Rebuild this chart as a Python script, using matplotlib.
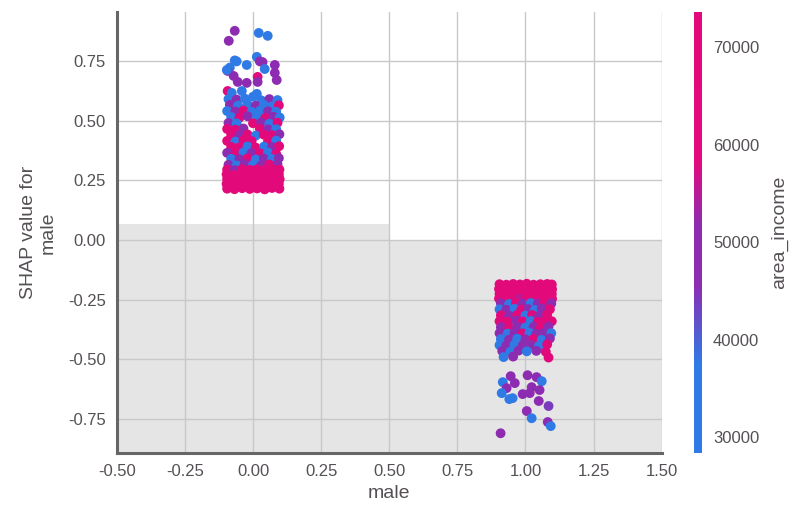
import numpy as np
import matplotlib.pyplot as plt
from matplotlib.colors import LinearSegmentedColormap

plt.rcParams['font.family'] = ['Liberation Sans', 'DejaVu Sans']

# ---- data ----------------------------------------------------------------
B, P, M = 33000, 49000, 67000   # typical blue / purple / magenta incomes

# female (male = 0), jittered x, SHAP value, area_income
female_x = [
    -0.067, -0.089, 0.021, 0.054, -0.067, -0.060, -0.085, -0.023, 0.014, 0.025,
    0.035, 0.080, 0.043, -0.093, -0.071, -0.056, -0.023, 0.017, 0.017, 0.080,
    0.087, -0.093, -0.078, -0.041, -0.096, 0.014,
    -0.090, -0.060, -0.030, 0.000, 0.030, 0.060, 0.090,
    -0.085, -0.055, -0.020, 0.010, 0.040, 0.070, 0.095,
    -0.095, -0.065, -0.035, -0.005, 0.025, 0.055, 0.085,
    -0.080, -0.050, -0.020, 0.015, 0.045, 0.075, 0.098,
    -0.090, -0.060, 0.000, 0.030, 0.060, 0.090,
    -0.095, -0.065, -0.035, 0.025, 0.055, 0.085,
    -0.080, -0.050, -0.020, 0.010, 0.040, 0.070, 0.097,
    -0.095, -0.065, -0.035, -0.005, 0.055, 0.085,
    -0.080, -0.050, -0.020, 0.010, 0.040, 0.070, 0.096,
    -0.095, -0.065, -0.035, -0.005, 0.025, 0.055, 0.085,
    -0.080, -0.050, -0.020, 0.010, 0.040, 0.070, 0.095,
    -0.090, -0.060, -0.030, 0.000, 0.030, 0.060, 0.090,
    -0.095, -0.068, -0.040, -0.012, 0.015, 0.043, 0.070, 0.097,
    -0.097, -0.070, -0.042, -0.015, 0.012, 0.040, 0.067, 0.095,
    -0.095, -0.068, -0.040, -0.012, 0.015, 0.043, 0.070, 0.098,
    -0.097, -0.070, -0.042, -0.015, 0.012, 0.040, 0.067, 0.095,
    -0.095, -0.068, -0.040, -0.012, 0.015, 0.043, 0.070, 0.097,
]
female_shap = [
    0.876, 0.834, 0.867, 0.855, 0.752, 0.748, 0.722, 0.733, 0.767, 0.748,
    0.745, 0.733, 0.716, 0.708, 0.687, 0.662, 0.658, 0.683, 0.662, 0.700,
    0.670, 0.624, 0.616, 0.624, 0.712, 0.612,
    0.590, 0.588, 0.592, 0.600, 0.585, 0.590, 0.586,
    0.566, 0.563, 0.568, 0.562, 0.566, 0.560, 0.564,
    0.540, 0.538, 0.542, 0.536, 0.541, 0.539, 0.537,
    0.515, 0.512, 0.518, 0.514, 0.511, 0.516, 0.513,
    0.490, 0.488, 0.489, 0.492, 0.487, 0.491,
    0.465, 0.462, 0.467, 0.466, 0.463, 0.464,
    0.440, 0.438, 0.442, 0.437, 0.441, 0.439, 0.443,
    0.415, 0.412, 0.418, 0.414, 0.413, 0.416,
    0.390, 0.388, 0.392, 0.387, 0.391, 0.389, 0.393,
    0.365, 0.362, 0.367, 0.364, 0.363, 0.366, 0.361,
    0.340, 0.338, 0.342, 0.337, 0.341, 0.339, 0.343,
    0.315, 0.312, 0.318, 0.314, 0.313, 0.316, 0.317,
    0.295, 0.293, 0.297, 0.294, 0.296, 0.292, 0.298, 0.295,
    0.275, 0.273, 0.277, 0.274, 0.276, 0.272, 0.278, 0.275,
    0.255, 0.253, 0.257, 0.254, 0.256, 0.252, 0.258, 0.255,
    0.235, 0.233, 0.237, 0.234, 0.236, 0.232, 0.238, 0.235,
    0.215, 0.213, 0.217, 0.214, 0.216, 0.212, 0.218, 0.215,
]
female_income = [
    49000, 48000, 33000, 34000, 33000, 35000, 32000, 36000, 34000, 49000,
    50000, 48000, 34000, 50000, 49000, 48000, 50000, 65000, 49000, 48000,
    50000, 66000, 34000, 35000, 32000, 33000,
    B, P, B, B, B, P, B,
    P, B, B, P, B, B, M,
    B, P, M, B, B, P, B,
    B, M, P, B, M, P, B,
    P, B, M, P, B, M,
    M, M, P, M, P, B,
    M, P, M, B, M, M, P,
    M, B, M, M, M, B,
    M, M, B, M, B, P, M,
    P, M, B, P, M, B, M,
    B, P, M, B, P, B, P,
    P, B, P, B, P, M, P,
    M, P, M, M, M, 60000, M, M,
    M, 70000, M, M, 69000, M, M, 71000,
    70000, M, 72000, M, M, 70000, M, M,
    M, 71000, M, 69000, M, M, 72000, M,
    72000, M, M, 70000, M, 71000, M, M,
]

# male (male = 1)
male_x = [
    0.917, 0.946, 0.931, 0.961, 0.913, 0.953, 0.941, 1.008, 1.041, 1.060,
    1.023, 1.052, 0.990, 1.016, 1.049, 1.085, 1.005, 1.023, 1.082, 1.093,
    0.909,
    0.905, 0.930, 0.955, 0.980, 1.005, 1.030, 1.055, 1.080, 1.097,
    0.903, 0.928, 0.953, 0.978, 1.003, 1.028, 1.053, 1.078, 1.098,
    0.905, 0.930, 0.955, 0.980, 1.005, 1.030, 1.055, 1.080, 1.097,
    0.903, 0.928, 0.953, 0.978, 1.003, 1.028, 1.053, 1.078, 1.098,
    0.910, 0.940, 0.965, 0.990, 1.020, 1.045, 1.070, 1.095,
    0.905, 0.930, 0.960, 0.985, 1.010, 1.035, 1.060, 1.090,
    0.910, 0.940, 0.970, 1.000, 1.025, 1.050, 1.080,
    0.905, 0.935, 0.965, 0.990, 1.020, 1.045, 1.075, 1.097,
    0.910, 0.940, 0.970, 1.000, 1.030, 1.055, 1.085,
    0.905, 0.935, 0.960, 0.990, 1.015, 1.040, 1.070, 1.095,
    0.910, 0.940, 0.970, 1.000, 1.030, 1.060, 1.090,
    0.905, 0.930, 0.960, 0.990, 1.020, 1.050, 1.080,
    0.915, 0.945, 0.975, 1.005, 1.040, 1.075,
    0.920, 0.955, 1.085,
]
male_shap = [
    -0.595, -0.570, -0.620, -0.599, -0.641, -0.662, -0.666, -0.566, -0.574, -0.591,
    -0.616, -0.628, -0.645, -0.641, -0.674, -0.695, -0.716, -0.746, -0.762, -0.779,
    -0.809,
    -0.185, -0.187, -0.184, -0.186, -0.183, -0.187, -0.185, -0.184, -0.186,
    -0.205, -0.207, -0.204, -0.206, -0.203, -0.207, -0.205, -0.204, -0.206,
    -0.225, -0.227, -0.224, -0.226, -0.223, -0.227, -0.225, -0.224, -0.226,
    -0.245, -0.247, -0.244, -0.246, -0.243, -0.247, -0.245, -0.244, -0.246,
    -0.265, -0.268, -0.263, -0.266, -0.264, -0.267, -0.262, -0.266,
    -0.290, -0.292, -0.288, -0.291, -0.289, -0.293, -0.287, -0.290,
    -0.315, -0.317, -0.313, -0.316, -0.314, -0.318, -0.312,
    -0.340, -0.342, -0.338, -0.341, -0.339, -0.343, -0.337, -0.340,
    -0.365, -0.367, -0.363, -0.366, -0.364, -0.368, -0.362,
    -0.390, -0.392, -0.388, -0.391, -0.389, -0.393, -0.387, -0.390,
    -0.415, -0.417, -0.413, -0.416, -0.414, -0.418, -0.412,
    -0.440, -0.442, -0.438, -0.441, -0.439, -0.443, -0.437,
    -0.465, -0.467, -0.463, -0.466, -0.464, -0.468,
    -0.490, -0.488, -0.492,
]
male_income = [
    33000, 49000, 48000, 50000, 32000, 34000, 33000, 49000, 48000, 34000,
    49000, 50000, 48000, 49000, 48000, 44000, 49000, 34000, 48000, 33000,
    49000,
    M, 70000, M, 72000, M, M, 69000, M, M,
    71000, M, M, 70000, M, 72000, M, M, 69000,
    M, M, 71000, M, M, 70000, M, 72000, M,
    M, 62000, M, 55000, M, M, 58000, M, 60000,
    P, B, M, P, B, P, M, P,
    B, P, B, M, P, B, P, M,
    M, P, M, B, M, P, M,
    M, M, P, M, B, M, M, M,
    P, M, P, B, P, M, P,
    P, B, P, M, B, P, P, B,
    B, P, B, P, M, B, P,
    B, P, B, P, P, B, M,
    P, B, P, B, P, M,
    B, P, M,
]

# histogram of the feature in the background (counts per value)
hist_edges = [-0.5, 0.5, 1.5]
hist_counts = [519, 481]

# ---- plot -----------------------------------------------------------------
text_col = '#555055'
cmap = LinearSegmentedColormap.from_list(
    'shap_like',
    [(0.0, '#2F7AE5'), (0.2, '#2F7AE5'), (0.38, '#8C2DB3'), (0.52, '#8F2BB0'),
     (0.66, '#E20A7C'), (1.0, '#E2097B')])

fig = plt.figure(figsize=(8, 5.19), dpi=100)
ax = fig.add_axes([0.146, 0.127, 0.681, 0.85])
ax2 = ax.twinx()

ax2.bar(hist_edges[:-1], hist_counts, width=np.diff(hist_edges), align='edge',
        color='#000000', alpha=0.1, linewidth=0)
ax2.set_ylim(0, sum(hist_counts))
ax2.set_yticks([])
for s in ax2.spines.values():
    s.set_visible(False)

ax.set_zorder(ax2.get_zorder() + 1)
ax.patch.set_visible(False)

xs = np.array(female_x + male_x)
ys = np.array(female_shap + male_shap)
cs = np.array(female_income + male_income)
sc = ax.scatter(xs, ys, c=cs, cmap=cmap, vmin=28400, vmax=73600,
                s=50, linewidth=0, zorder=3)

ax.set_xlim(-0.5, 1.5)
ax.set_ylim(-0.892, 0.955)
ax.set_xticks(np.arange(-0.5, 1.51, 0.25))
ax.set_yticks([-0.75, -0.5, -0.25, 0, 0.25, 0.5, 0.75])
ax.xaxis.set_major_formatter(plt.FormatStrFormatter('%.2f'))
ax.yaxis.set_major_formatter(plt.FormatStrFormatter('%.2f'))
ax.grid(True, color='#c8c8c8', linewidth=1.0, zorder=0)
ax.set_axisbelow(True)

for side in ['top', 'right']:
    ax.spines[side].set_visible(False)
for side in ['left', 'bottom']:
    ax.spines[side].set_color('#666666')
    ax.spines[side].set_linewidth(2.2)
ax.tick_params(length=0, pad=8, labelsize=12, labelcolor=text_col)

ax.set_xlabel('male', fontsize=14, color=text_col, labelpad=4)
ax.set_ylabel('SHAP value for\nmale', fontsize=14, color=text_col, labelpad=8)

cax = fig.add_axes([0.8675, 0.127, 0.01, 0.85])
cb = fig.colorbar(sc, cax=cax)
cb.outline.set_visible(False)
cb.set_ticks([30000, 40000, 50000, 60000, 70000])
cb.ax.tick_params(length=0, pad=8, labelsize=12, labelcolor=text_col)
cb.set_label('area_income', fontsize=14, color=text_col, labelpad=8)

fig.savefig('out.png', dpi=100)
